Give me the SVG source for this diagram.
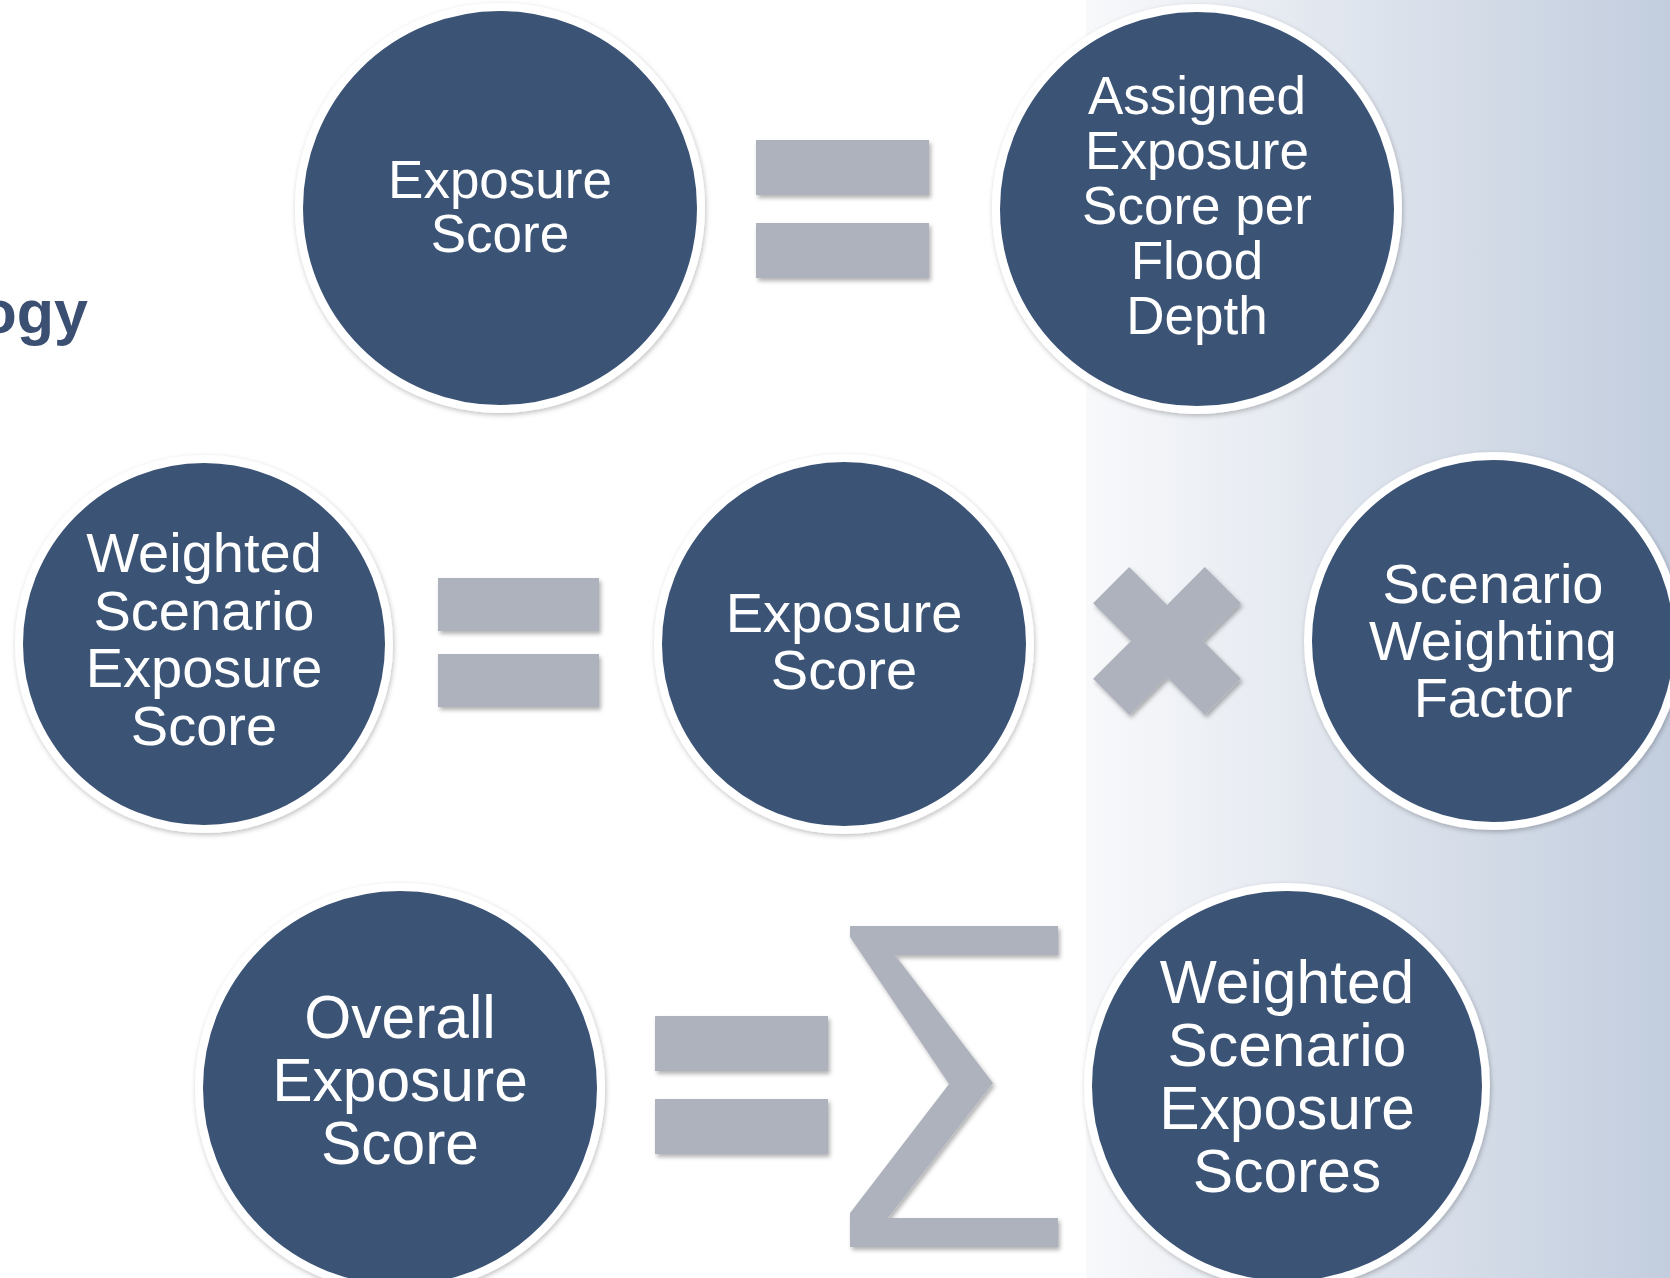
<svg xmlns="http://www.w3.org/2000/svg" width="1670" height="1278" viewBox="0 0 1670 1278">
  <defs>
    <linearGradient id="bg" gradientUnits="userSpaceOnUse" x1="1086" y1="0" x2="1670" y2="0">
      <stop offset="0" stop-color="#F8F9FB"/>
      <stop offset="1" stop-color="#C2CDDE"/>
    </linearGradient>
    <filter id="opShadow" x="-20%" y="-20%" width="140%" height="140%">
      <feDropShadow dx="2" dy="3" stdDeviation="2" flood-color="#000" flood-opacity="0.3"/>
    </filter>
    <filter id="circShadow" x="-10%" y="-10%" width="120%" height="120%">
      <feDropShadow dx="1" dy="2" stdDeviation="2.5" flood-color="#000" flood-opacity="0.25"/>
    </filter>
  </defs>
  <style>
    .ring { fill: #3B5275; stroke: #FFFFFF; stroke-width: 8; filter: url(#circShadow); }
    .lbl { fill: #FFFFFF; font-family: "Liberation Sans", Arial, sans-serif; text-anchor: middle; }
    .op { fill: #ADB2BC; filter: url(#opShadow); }
    .title { fill: #3A4F71; font-family: "Liberation Sans", Arial, sans-serif; font-weight: bold; font-size: 61px; text-anchor: end; }
  </style>

  <rect x="0" y="0" width="1670" height="1278" fill="#FFFFFF"/>
  <rect x="1086" y="0" width="584" height="1278" fill="url(#bg)"/>

  <text class="title" x="88" y="333">ogy</text>

  <g id="connectors">
    <g id="equals-1">
      <rect class="op" x="756" y="140" width="173" height="55"/>
      <rect class="op" x="756" y="223" width="173" height="55"/>
    </g>
    <g id="equals-2">
      <rect class="op" x="438" y="578" width="161" height="53"/>
      <rect class="op" x="438" y="654" width="161" height="53"/>
    </g>
    <g id="times">
      <polygon class="op" transform="translate(1167,641)" points="0,-36 37.8,-73.9 73.9,-37.8 36,0 73.9,37.8 37.8,73.9 0,36 -37.8,73.9 -73.9,37.8 -36,0 -73.9,-37.8 -37.8,-73.9"/>
    </g>
    <g id="equals-3">
      <rect class="op" x="655" y="1016" width="173" height="55"/>
      <rect class="op" x="655" y="1099" width="173" height="55"/>
    </g>
    <g id="sigma">
      <polygon class="op" points="850,926 1058,926 1058,955 895,955 993,1083 888,1218 1058,1218 1058,1247 850,1247 850,1213 949,1084 850,937"/>
    </g>
  </g>

  <g id="node-exposure-score-1">
    <circle class="ring" cx="500" cy="208" r="201"/>
    <text class="lbl" font-size="53"><tspan x="500" y="198">Exposure</tspan><tspan x="500" y="252">Score</tspan></text>
  </g>

  <g id="node-assigned-exposure">
    <circle class="ring" cx="1197" cy="209" r="201"/>
    <text class="lbl" font-size="53"><tspan x="1197" y="114">Assigned</tspan><tspan x="1197" y="169">Exposure</tspan><tspan x="1197" y="224">Score per</tspan><tspan x="1197" y="279">Flood</tspan><tspan x="1197" y="334">Depth</tspan></text>
  </g>

  <g id="node-weighted-scenario-exposure-score">
    <circle class="ring" cx="204" cy="644" r="185"/>
    <text class="lbl" font-size="56"><tspan x="204" y="572">Weighted</tspan><tspan x="204" y="630">Scenario</tspan><tspan x="204" y="687">Exposure</tspan><tspan x="204" y="745">Score</tspan></text>
  </g>

  <g id="node-exposure-score-2">
    <circle class="ring" cx="844" cy="644" r="186"/>
    <text class="lbl" font-size="56"><tspan x="844" y="632">Exposure</tspan><tspan x="844" y="689">Score</tspan></text>
  </g>

  <g id="node-scenario-weighting-factor">
    <circle class="ring" cx="1493" cy="641" r="185"/>
    <text class="lbl" font-size="56"><tspan x="1493" y="603">Scenario</tspan><tspan x="1493" y="660">Weighting</tspan><tspan x="1493" y="717">Factor</tspan></text>
  </g>

  <g id="node-overall-exposure-score">
    <circle class="ring" cx="400" cy="1088" r="201"/>
    <text class="lbl" font-size="60.5"><tspan x="400" y="1038">Overall</tspan><tspan x="400" y="1101">Exposure</tspan><tspan x="400" y="1164">Score</tspan></text>
  </g>

  <g id="node-weighted-scenario-exposure-scores">
    <circle class="ring" cx="1287" cy="1086" r="199"/>
    <text class="lbl" font-size="60.5"><tspan x="1287" y="1003">Weighted</tspan><tspan x="1287" y="1066">Scenario</tspan><tspan x="1287" y="1129">Exposure</tspan><tspan x="1287" y="1192">Scores</tspan></text>
  </g>
</svg>
